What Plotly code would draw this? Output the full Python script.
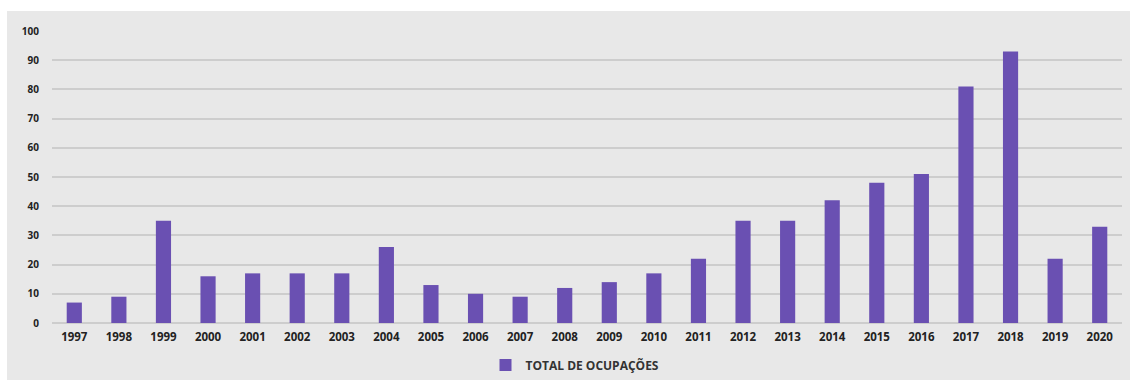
import plotly.graph_objects as go

years = ["1997", "1998", "1999", "2000", "2001", "2002", "2003", "2004", "2005", "2006", "2007", "2008",
         "2009", "2010", "2011", "2012", "2013", "2014", "2015", "2016", "2017", "2018", "2019", "2020"]
ocupacoes = [7, 9, 35, 16, 17, 17, 17, 26, 13, 10, 9, 12, 14, 17, 22, 35, 35, 42, 48, 51, 81, 93, 22, 33]
y_ticks = [0, 10, 20, 30, 40, 50, 60, 70, 80, 90, 100]

W, H = 1130, 380
ml, mr, mt, mb = 52, 8, 31, 57
pw, ph = W - ml - mr, H - mt - mb

fig = go.Figure()
fig.add_trace(go.Bar(
    x=years, y=ocupacoes, name="TOTAL DE OCUPAÇÕES",
    marker=dict(color="#6a50b2", line=dict(width=0)),
))

# gray panel background (starts 7px from left, 11px from top)
fig.add_shape(type="rect", xref="paper", yref="paper", layer="below",
              x0=(7 - ml) / pw, x1=(W - ml) / pw,
              y0=-mb / ph, y1=1 + (mt - 11) / ph,
              fillcolor="#e8e8e8", line=dict(width=0))

fig.update_layout(
    width=W, height=H,
    margin=dict(l=ml, r=mr, t=mt, b=mb, autoexpand=False),
    paper_bgcolor="white", plot_bgcolor="rgba(0,0,0,0)",
    bargap=0.66,
    font=dict(family="Open Sans", color="#222222"),
    showlegend=True,
    legend=dict(orientation="h", x=0.5 - 12 / pw, xanchor="center", yref="container", y=(H - 365) / H,
                yanchor="middle",
                font=dict(size=12, family="Open Sans", weight="bold", color="#333333"),
                itemwidth=30, bgcolor="rgba(0,0,0,0)"),
    xaxis=dict(type="category", tickfont=dict(size=11.5, weight="bold", color="#222222"),
               showgrid=False, showline=False, ticks="", ticklabelstandoff=5, automargin=False),
    yaxis=dict(range=[0, 100], tickvals=y_ticks, tickfont=dict(size=10, weight="bold", color="#222222"),
               showgrid=True, gridcolor="#cdcdcd", gridwidth=1.5,
               zeroline=True, zerolinecolor="#cdcdcd", zerolinewidth=1.5,
               ticks="", ticklabelstandoff=12, showline=False, automargin=False),
)

fig.write_html("out.html")
